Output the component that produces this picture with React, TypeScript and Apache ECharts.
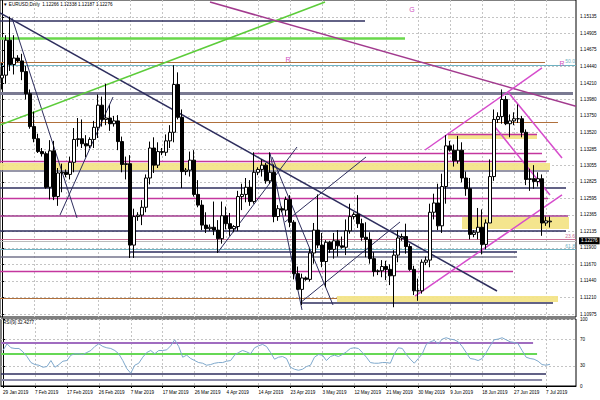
import React, { useEffect, useRef } from 'react';
import * as echarts from 'echarts';

// ---------- data ----------
const dateLabels = ['29 Jan 2019', '7 Feb 2019', '17 Feb 2019', '26 Feb 2019', '7 Mar 2019', '17 Mar 2019', '26 Mar 2019', '4 Apr 2019', '14 Apr 2019', '23 Apr 2019', '3 May 2019', '12 May 2019', '21 May 2019', '30 May 2019', '9 Jun 2019', '18 Jun 2019', '27 Jun 2019', '7 Jul 2019'];
const labelStep = 8;

const opens = [1.1428, 1.1432, 1.1481, 1.1447, 1.1456, 1.1452, 1.1437, 1.1406, 1.1360, 1.1343,
  1.1325, 1.1322, 1.1275, 1.1326, 1.1262, 1.1295, 1.1296, 1.1293, 1.1310, 1.1342,
  1.1343, 1.1336, 1.1333, 1.1342, 1.1359, 1.1390, 1.1370, 1.1372, 1.1364, 1.1368,
  1.1339, 1.1307, 1.1308, 1.1194, 1.1234, 1.1236, 1.1247, 1.1288, 1.1330, 1.1306,
  1.1325, 1.1324, 1.1340, 1.1352, 1.1419, 1.1373, 1.1297, 1.1299, 1.1313, 1.1265,
  1.1250, 1.1222, 1.1217, 1.1219, 1.1215, 1.1203, 1.1235, 1.1224, 1.1217, 1.1220,
  1.1262, 1.1265, 1.1275, 1.1255, 1.1296, 1.1300, 1.1306, 1.1284, 1.1296, 1.1234,
  1.1245, 1.1243, 1.1258, 1.1226, 1.1154, 1.1132, 1.1148, 1.1146, 1.1183, 1.1215,
  1.1194, 1.1171, 1.1198, 1.1188, 1.1200, 1.1193, 1.1191, 1.1214, 1.1234, 1.1237,
  1.1224, 1.1205, 1.1202, 1.1175, 1.1157, 1.1158, 1.1164, 1.1160, 1.1151, 1.1180,
  1.1204, 1.1206, 1.1192, 1.1160, 1.1130, 1.1130, 1.1170, 1.1173, 1.1240, 1.1253,
  1.1221, 1.1276, 1.1333, 1.1327, 1.1312, 1.1327, 1.1288, 1.1273, 1.1209, 1.1212,
  1.1219, 1.1195, 1.1225, 1.1290, 1.1370, 1.1374, 1.1398, 1.1364, 1.1368, 1.1371,
  1.1371, 1.1352, 1.1286, 1.1287, 1.1283, 1.1287, 1.1225, 1.12266];
const highs = [1.1449, 1.1488, 1.1514, 1.1488, 1.1460, 1.1462, 1.1445, 1.1412, 1.1381, 1.1350,
  1.1330, 1.1325, 1.1341, 1.1340, 1.1302, 1.1308, 1.1300, 1.1318, 1.1358, 1.1372,
  1.1370, 1.1348, 1.1345, 1.1368, 1.1405, 1.1402, 1.1420, 1.1390, 1.1375, 1.1376,
  1.1346, 1.1318, 1.1320, 1.1245, 1.1240, 1.1257, 1.1293, 1.1339, 1.1345, 1.1338,
  1.1330, 1.1349, 1.1362, 1.1446, 1.1436, 1.1384, 1.1302, 1.1325, 1.1327, 1.1285,
  1.1257, 1.1240, 1.1223, 1.1255, 1.1229, 1.1255, 1.1248, 1.1239, 1.1222, 1.1270,
  1.1280, 1.1288, 1.1285, 1.1324, 1.1303, 1.1314, 1.1309, 1.1324, 1.1307, 1.1250,
  1.1248, 1.1262, 1.1264, 1.1229, 1.1164, 1.1154, 1.1150, 1.1189, 1.1225, 1.1265,
  1.1211, 1.1201, 1.1200, 1.1211, 1.1215, 1.1206, 1.1230, 1.1252, 1.1240, 1.1264,
  1.1231, 1.1226, 1.1212, 1.1184, 1.1160, 1.1173, 1.1172, 1.1167, 1.1187, 1.1215,
  1.1210, 1.1224, 1.1196, 1.1165, 1.1147, 1.1174, 1.1178, 1.1252, 1.1266, 1.1280,
  1.1294, 1.1348, 1.1340, 1.1335, 1.1347, 1.1338, 1.1297, 1.1288, 1.1215, 1.1246,
  1.1244, 1.1230, 1.1314, 1.1384, 1.1380, 1.1412, 1.1403, 1.1377, 1.1380, 1.1391,
  1.1375, 1.1356, 1.1301, 1.1306, 1.1296, 1.1293, 1.1234, 1.12338];
const lows = [1.1412, 1.1420, 1.1438, 1.1433, 1.1450, 1.1425, 1.1398, 1.1357, 1.1338, 1.1323,
  1.1318, 1.1273, 1.1258, 1.1257, 1.1249, 1.1268, 1.1289, 1.1286, 1.1296, 1.1332,
  1.1330, 1.1317, 1.1330, 1.1330, 1.1344, 1.1360, 1.1362, 1.1354, 1.1360, 1.1327,
  1.1296, 1.1286, 1.1176, 1.1176, 1.1228, 1.1222, 1.1240, 1.1279, 1.1295, 1.1302,
  1.1320, 1.1319, 1.1330, 1.1338, 1.1370, 1.1274, 1.1292, 1.1290, 1.1262, 1.1247,
  1.1215, 1.1211, 1.1214, 1.1208, 1.1183, 1.1196, 1.1216, 1.1207, 1.1212, 1.1214,
  1.1243, 1.1254, 1.1249, 1.1252, 1.1292, 1.1290, 1.1280, 1.1280, 1.1226, 1.1228,
  1.1240, 1.1235, 1.1219, 1.1146, 1.1131, 1.1110, 1.1144, 1.1143, 1.1168, 1.1190,
  1.1163, 1.1135, 1.1183, 1.1175, 1.1178, 1.1189, 1.1180, 1.1210, 1.1230, 1.1218,
  1.1200, 1.1177, 1.1168, 1.1150, 1.1152, 1.1149, 1.1145, 1.1138, 1.1107, 1.1170,
  1.1200, 1.1182, 1.1158, 1.1124, 1.1116, 1.1126, 1.1166, 1.1163, 1.1230, 1.1215,
  1.1211, 1.1252, 1.1325, 1.1304, 1.1308, 1.1282, 1.1263, 1.1202, 1.1205, 1.1202,
  1.1181, 1.1188, 1.1225, 1.1284, 1.1365, 1.1364, 1.1362, 1.1345, 1.1362, 1.1365,
  1.1345, 1.1278, 1.1270, 1.1273, 1.1276, 1.1207, 1.1221, 1.12187];
const closes = [1.1432, 1.1481, 1.1447, 1.1456, 1.1452, 1.1437, 1.1406, 1.1360, 1.1343, 1.1325,
  1.1322, 1.1275, 1.1326, 1.1262, 1.1295, 1.1296, 1.1293, 1.1310, 1.1342, 1.1343,
  1.1336, 1.1333, 1.1342, 1.1359, 1.1390, 1.1370, 1.1372, 1.1364, 1.1368, 1.1339,
  1.1307, 1.1308, 1.1194, 1.1234, 1.1236, 1.1247, 1.1288, 1.1330, 1.1306, 1.1325,
  1.1324, 1.1340, 1.1352, 1.1419, 1.1373, 1.1297, 1.1299, 1.1313, 1.1265, 1.1250,
  1.1222, 1.1217, 1.1219, 1.1215, 1.1203, 1.1235, 1.1224, 1.1217, 1.1220, 1.1262,
  1.1265, 1.1275, 1.1255, 1.1296, 1.1300, 1.1306, 1.1284, 1.1296, 1.1234, 1.1245,
  1.1243, 1.1258, 1.1226, 1.1154, 1.1132, 1.1148, 1.1146, 1.1183, 1.1215, 1.1194,
  1.1171, 1.1198, 1.1188, 1.1200, 1.1193, 1.1191, 1.1214, 1.1234, 1.1237, 1.1224,
  1.1205, 1.1202, 1.1175, 1.1157, 1.1158, 1.1164, 1.1160, 1.1151, 1.1180, 1.1204,
  1.1206, 1.1192, 1.1160, 1.1130, 1.1130, 1.1170, 1.1173, 1.1240, 1.1253, 1.1221,
  1.1276, 1.1333, 1.1327, 1.1312, 1.1327, 1.1288, 1.1273, 1.1209, 1.1212, 1.1219,
  1.1195, 1.1225, 1.1290, 1.1370, 1.1374, 1.1398, 1.1364, 1.1368, 1.1371, 1.1371,
  1.1352, 1.1286, 1.1287, 1.1283, 1.1287, 1.1225, 1.1228, 1.12276];

const rsi = [53, 63, 57, 56, 56, 51, 44, 35, 32, 31,
  28, 29, 38, 28, 32, 37, 38, 46, 48, 48,
  47, 50, 53, 59, 63, 59, 57, 56, 53, 48,
  38, 26, 19, 31, 34, 43, 50, 53, 48, 53,
  53, 54, 60, 69, 59, 43, 46, 41, 38, 35,
  34, 31, 32, 34, 35, 35, 37, 38, 46, 50,
  53, 51, 48, 57, 60, 62, 59, 50, 40, 43,
  44, 41, 28, 25, 23.5, 25, 29, 31, 43, 47,
  46, 38, 44, 46, 44, 47, 51, 56, 57, 56,
  50, 43, 35, 34, 34, 35, 35, 34, 48, 57,
  56, 47, 40, 34, 41, 48, 62, 66, 68, 63,
  70, 72, 70, 69, 66, 59, 50, 41, 40, 38,
  41, 50, 60, 69, 70, 72, 69, 66, 65, 63,
  53, 43, 41, 40, 37, 32, 31, 32.4277];

const priceTicks = [1.10975, 1.11210, 1.11440, 1.11670, 1.11900, 1.12135, 1.12365, 1.12595, 1.12825, 1.13055, 1.13285, 1.13520, 1.13750, 1.13980, 1.14210, 1.14440, 1.14675, 1.14905, 1.15135];
const rsiTicks = [0, 30, 70, 100];
const lastPrice = 1.12276;
const rsiLast = 32.4277;

// horizontal drawn levels: [price, fromBar, toBar, style]
const levels: [number, number, number, string][] = [
  [1.15079, -0.5, 90.75, 'navy'],
  [1.14841, -0.5, 100.75, 'green'],
  [1.14505, -0.5, 135.75, 'brown'],
  [1.14070, -0.5, 142.75, 'greyThick'],
  [1.13664, -0.5, 139, 'brown'],
  [1.13496, 111.5, 133.75, 'magenta'],
  [1.13230, 62.75, 135, 'magenta'],
  [1.13118, -0.5, 136, 'magenta'],
  [1.12978, -0.5, 136.75, 'grey'],
  [1.12740, -0.5, 141, 'navy'],
  [1.12600, -0.5, 136.5, 'magenta'],
  [1.12347, -0.5, 141.5, 'plum'],
  [1.12137, -0.5, 141, 'navy'],
  [1.11843, 32, 128.75, 'navy'],
  [1.11773, -0.5, 128.75, 'grey'],
  [1.11577, -0.5, 127.75, 'magenta'],
  [1.11199, -0.5, 83.75, 'brown'],
  [1.11129, 75, 137.75, 'navy'],
];
// fibonacci levels: [price, tag, style]
const fibLevels: [number, string, string][] = [
  [1.14463, '50.0', 'teal'],
  [1.12025, '23.6', 'rose'],
  [1.11885, '61.8', 'teal'],
];
// trend lines: [bar1, price1, bar2, price2, style]
const trendLines: [number, number, number, number, string][] = [
  [-0.5, 1.15191, 123.75, 1.11297, 'navy'],
  [2.5, 1.15121, 18.75, 1.12320, 'navyThin'],
  [14.5, 1.12362, 27.75, 1.14014, 'navyThin'],
  [-0.5, 1.13622, 80.75, 1.15345, 'greenThin'],
  [52, 1.15345, 143.5, 1.13883, 'plum'],
  [105.75, 1.13272, 135, 1.14421, 'pink'],
  [126.5, 1.14084, 140, 1.13160, 'pink'],
  [123.25, 1.13594, 137, 1.12642, 'pink'],
  [103.25, 1.11227, 140, 1.12642, 'pink'],
  [54, 1.11843, 73.75, 1.13314, 'navyThin'],
  [67, 1.13230, 75, 1.11031, 'navyThin'],
  [67.5, 1.13174, 82.75, 1.11101, 'navyThin'],
  [74.5, 1.11129, 99.5, 1.12264, 'navyThin'],
  [70.75, 1.12264, 91, 1.13174, 'navyThin'],
];
// zones: [bar1, price1, bar2, price2]
const zones: [number, number, number, number][] = [
  [111.5, 1.13499, 133.75, 1.13426],
  [-0.5, 1.13090, 137, 1.12992],
  [115, 1.12334, 141.75, 1.12165],
  [83.75, 1.11227, 139, 1.11143],
];
// text markers: [bar, price, text]
const markers: [number, number, string][] = [
  [102.5, 1.15247, 'G'],
  [71.5, 1.14533, 'R'],
  [140, 1.14477, 'R'],
];
// RSI levels: [value, toBar, style]
const rsiLevels: [number, number, string][] = [
  [64.7, 132.75, 'purple'],
  [48.5, 133.75, 'greenR'],
  [17.6, 136, 'navy'],
  [10, 135, 'greyR'],
];

const STYLES: Record<string, { color: string; width: number }> = {
  navy: { color: '#2e2e5e', width: 1.5 },
  navyThin: { color: '#2e2e5e', width: 1 },
  grey: { color: '#74748c', width: 1.5 },
  greyThick: { color: '#7a7a92', width: 3 },
  green: { color: '#6ad84c', width: 2.5 },
  greenThin: { color: '#5ccc3a', width: 1.5 },
  brown: { color: '#b0703c', width: 1.2 },
  magenta: { color: '#c4369e', width: 1.3 },
  plum: { color: '#a23a8e', width: 1.5 },
  pink: { color: '#d64ccc', width: 1.5 },
  teal: { color: '#6fb2c2', width: 1 },
  rose: { color: '#cc7096', width: 1 },
  purple: { color: '#a06cc0', width: 2 },
  greenR: { color: '#66d855', width: 2 },
  greyR: { color: '#8a8aa8', width: 2 },
};

const FONT = 'Liberation Sans, Arial, sans-serif';
const FS = 4.6;

export default function App() {
  const ref = useRef<HTMLDivElement>(null);
  useEffect(() => {
    if (!ref.current) return;
    const chart = echarts.init(ref.current, null, { renderer: 'svg' });
    const nBars = 144;
    const xMin = -0.5;
    const xMax = nBars - 0.5;
    const barTicks = dateLabels.map((_, i) => i * labelStep);

    const candleData = opens.map((o, i) => [i, o, closes[i], lows[i], highs[i]]);
    const rsiData = rsi.map((v, i) => [i, v]);

    const lineItems: any[] = [];
    levels.forEach(([p, a, b, s]) => {
      lineItems.push({ coords: [[a, p], [b, p]], lineStyle: { ...STYLES[s], opacity: 1 } });
    });
    fibLevels.forEach(([p, tag, s]) => {
      lineItems.push({
        coords: [[xMin, p], [xMax, p]],
        lineStyle: { ...STYLES[s], opacity: 1 },
        label: { show: true, formatter: tag, position: 'insideEndTop', distance: 1, color: STYLES[s].color, fontSize: 5, fontFamily: FONT },
      });
    });
    trendLines.forEach(([a, p1, b, p2, s]) => {
      lineItems.push({ coords: [[a, p1], [b, p2]], lineStyle: { ...STYLES[s], opacity: 1 } });
    });
    const rsiLineItems = rsiLevels.map(([v, b, s]) => ({
      coords: [[xMin, v], [b, v]],
      lineStyle: { ...STYLES[s], opacity: 1 },
    }));

    const gridLine = { show: true, lineStyle: { color: '#c4c4c4', type: [2, 2], width: 1 } };

    const option: any = {
      animation: false,
      backgroundColor: '#ffffff',
      textStyle: { fontFamily: FONT },
      grid: [
        { left: 0, top: 0, width: 576, height: 317, show: true, borderColor: '#000', borderWidth: 1 },
        { left: 0, top: 319, width: 576, height: 67, show: true, borderColor: '#000', borderWidth: 1 },
      ],
      xAxis: [
        {
          type: 'value', gridIndex: 0, min: xMin, max: xMax,
          axisLine: { show: false },
          axisTick: { show: false, customValues: barTicks },
          axisLabel: { show: false, customValues: barTicks },
          splitLine: { ...gridLine, customValues: barTicks },
        },
        {
          type: 'value', gridIndex: 1, min: xMin, max: xMax,
          axisLine: { show: true, lineStyle: { color: '#000' } },
          axisTick: { show: true, length: 2, customValues: barTicks, lineStyle: { color: '#000' } },
          axisLabel: {
            show: true, customValues: barTicks, align: 'left', margin: 4,
            fontSize: FS, color: '#000', fontFamily: FONT,
            formatter: (v: number) => dateLabels[Math.round(v / labelStep)] || '',
          },
          splitLine: { ...gridLine, customValues: barTicks },
        },
      ],
      yAxis: [
        {
          type: 'value', gridIndex: 0, position: 'right',
          min: 1.10933, max: 1.153731,
          axisLine: { show: true, lineStyle: { color: '#000' } },
          axisTick: { show: true, length: 2, customValues: priceTicks, lineStyle: { color: '#000' } },
          axisLabel: {
            show: true, customValues: priceTicks, margin: 4, fontSize: FS, color: '#000', fontFamily: FONT,
            formatter: (v: number) => v.toFixed(5),
          },
          splitLine: { ...gridLine, customValues: priceTicks },
        },
        {
          type: 'value', gridIndex: 1, position: 'right', min: 0, max: 100,
          axisLine: { show: true, lineStyle: { color: '#000' } },
          axisTick: { show: true, length: 2, customValues: rsiTicks, lineStyle: { color: '#000' } },
          axisLabel: {
            show: true, customValues: rsiTicks, margin: 4, fontSize: FS, color: '#000', fontFamily: FONT,
            formatter: (v: number) => String(v),
          },
          splitLine: { ...gridLine, customValues: rsiTicks },
        },
      ],
      series: [
        {
          type: 'lines', coordinateSystem: 'cartesian2d', xAxisIndex: 0, yAxisIndex: 0,
          polyline: false, silent: true, z: 2,
          lineStyle: { opacity: 1 },
          data: lineItems,
        },
        {
          type: 'candlestick', xAxisIndex: 0, yAxisIndex: 0, z: 3,
          barWidth: 3,
          itemStyle: { color: '#ffffff', color0: '#000000', borderColor: '#000000', borderColor0: '#000000', borderWidth: 1 },
          data: candleData,
          markArea: {
            silent: true, z: 1,
            itemStyle: { color: '#f3e488', opacity: 0.95 },
            data: zones.map(([a, p1, b, p2]) => [{ coord: [a, p1] }, { coord: [b, p2] }]),
          },
          markLine: {
            silent: true, symbol: ['none', 'none'], z: 1,
            lineStyle: { color: '#bcbcbc', type: 'solid', width: 1 },
            label: {
              show: true, position: 'end', distance: 3, formatter: lastPrice.toFixed(5),
              backgroundColor: '#000', color: '#fff', fontSize: FS, fontFamily: FONT, padding: [1, 2],
            },
            data: [{ yAxis: lastPrice }],
          },
          markPoint: {
            silent: true, symbol: 'rect', symbolSize: 1,
            itemStyle: { color: 'rgba(0,0,0,0)' },
            label: { show: true, position: 'inside', color: '#d050c0', fontSize: 7, fontFamily: FONT, formatter: (p: any) => p.name },
            data: markers.map(([b, p, t]) => ({ coord: [b, p], name: t })),
          },
        },
        {
          type: 'lines', coordinateSystem: 'cartesian2d', xAxisIndex: 1, yAxisIndex: 1,
          polyline: false, silent: true, z: 2,
          lineStyle: { opacity: 1 },
          data: rsiLineItems,
        },
        {
          type: 'line', xAxisIndex: 1, yAxisIndex: 1, z: 3,
          showSymbol: false, symbol: 'none',
          lineStyle: { color: '#7ea8cc', width: 1 },
          data: rsiData,
        },
      ],
      graphic: [
        {
          type: 'text', left: 3, top: 2,
          style: { text: '\u25BC EURUSD,Daily  1.12266 1.12338 1.12187 1.12276', fontSize: FS, fill: '#000', fontFamily: FONT },
        },
        {
          type: 'text', left: 3, top: 320,
          style: { text: 'RSI(9) ' + rsiLast.toFixed(4), fontSize: FS, fill: '#000', fontFamily: FONT },
        },
      ],
    };
    chart.setOption(option);
    return () => chart.dispose();
  }, []);
  return <div ref={ref} style={{ position: 'fixed', left: 0, top: 0, width: 600, height: 400, background: '#fff' }} />;
}
